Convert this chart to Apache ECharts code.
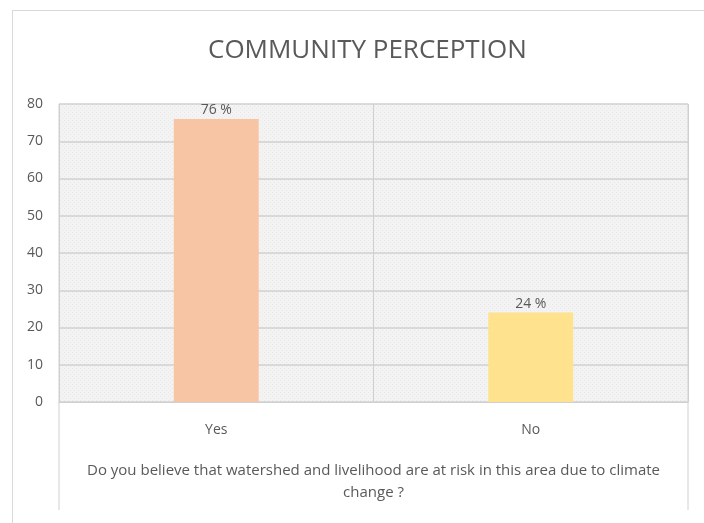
<!DOCTYPE html>
<html>
<head>
<meta charset="utf-8">
<script src="https://cdn.jsdelivr.net/npm/echarts@6/dist/echarts.min.js"></script>
<style>
  html, body { margin: 0; padding: 0; background: #fff; }
  #chart { width: 704px; height: 523px; }
  #frame { position: absolute; left: 12px; top: 10px; width: 700px; height: 520px; border: 1px solid #d9d9d9; pointer-events: none; }
</style>
</head>
<body>
<div id="chart"></div>
<div id="frame"></div>
<script>
const categories = ['Yes', 'No']
const values = [76, 24]
const barColors = ['#F7C4A4', '#FFE28E']
const yTicks = { min: 0, max: 80, interval: 10 }
const axisTitle = 'Do you believe that watershed and livelihood are at risk in this area due to climate\nchange ?'

// hatched plot background, like the Excel pattern fill
const pat = document.createElement('canvas')
pat.width = 8
pat.height = 8
const pc = pat.getContext('2d')
pc.fillStyle = '#f3f3f3'
pc.fillRect(0, 0, 8, 8)
pc.fillStyle = '#e8e8e8'
for (let i = 0; i < 8; i += 2) {
  pc.fillRect(i, i, 1, 1)
  pc.fillRect((i + 4) % 8, i, 1, 1)
}

const textColor = '#595959'
const chart = echarts.init(document.getElementById('chart'))

chart.setOption({
  animation: false,
  title: {
    text: 'COMMUNITY PERCEPTION',
    left: 203,
    top: 33,
    textStyle: { color: textColor, fontSize: 26, fontWeight: 'normal', fontFamily: 'Open Sans' }
  },
  grid: {
    left: 59, right: 16, top: 104, bottom: 121,
    show: true,
    backgroundColor: { image: pat, repeat: 'repeat' },
    borderWidth: 0
  },
  xAxis: {
    type: 'category',
    data: categories,
    axisLine: { lineStyle: { color: '#d0d0d0' } },
    axisTick: { show: false },
    splitLine: { show: true, lineStyle: { color: '#d0d0d0' } },
    axisLabel: { color: textColor, fontSize: 14, margin: 21, fontFamily: 'Open Sans' },
    name: axisTitle,
    nameLocation: 'middle',
    nameGap: 58,
    nameTextStyle: { color: textColor, fontSize: 15, lineHeight: 22, fontFamily: 'Open Sans' }
  },
  yAxis: {
    type: 'value',
    min: yTicks.min,
    max: yTicks.max,
    interval: yTicks.interval,
    axisLine: { show: false },
    axisTick: { show: false },
    splitLine: { lineStyle: { color: '#d0d0d0', width: 1.5 } },
    axisLabel: { color: textColor, fontSize: 14, margin: 16, fontFamily: 'Open Sans' }
  },
  series: [{
    type: 'bar',
    barWidth: '27%',
    data: values.map((v, i) => ({ value: v, itemStyle: { color: barColors[i] } })),
    label: {
      show: true,
      position: 'top',
      distance: 2,
      formatter: '{c} %',
      color: textColor,
      fontSize: 14,
      fontFamily: 'Open Sans'
    }
  }]
})

// outer category separators reach down past the labels
const plotRect = chart.getModel().getComponent('grid', 0).coordinateSystem.getRect()
const sepEnd = plotRect.y + plotRect.height + 108
chart.setOption({
  graphic: [plotRect.x, plotRect.x + plotRect.width].map(x => ({
    type: 'line',
    silent: true,
    shape: { x1: x, y1: plotRect.y, x2: x, y2: sepEnd },
    style: { stroke: '#d0d0d0', lineWidth: 1 }
  }))
})
</script>
</body>
</html>
